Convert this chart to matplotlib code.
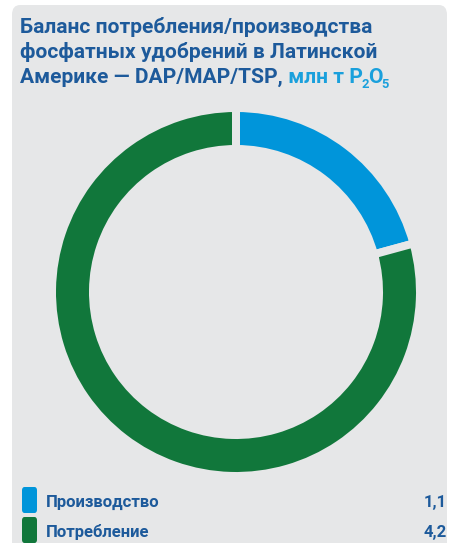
import matplotlib
matplotlib.use("Agg")
import matplotlib.pyplot as plt
from matplotlib.patches import FancyBboxPatch

# data
labels = ["Производство", "Потребление"]
values = [1.1, 4.2]
value_labels = ["1,1", "4,2"]
colors = ["#0095DA", "#11773B"]

title_lines = [
    "Баланс потребления/производства",
    "фосфатных удобрений в Латинской",
    "Америке — DAP/MAP/TSP,",
]
unit_text = " млн т P"

W, H = 450, 543
DPI = 100
PANEL = "#E6E7E8"
DARK = "#1D5A9B"
LIGHT = "#1AA0DC"
WEIGHT = "bold"

plt.rcParams["font.family"] = ["Roboto", "DejaVu Sans"]

fig = plt.figure(figsize=(W / DPI, H / DPI), dpi=DPI)
fig.patch.set_facecolor("white")


def px(x, y):
    """pixel coords (from top-left) -> figure fraction"""
    return x / W, 1 - y / H


# grey panel with rounded top-left corner
panel = FancyBboxPatch(
    (12 / W, -0.05), (447 - 12) / W, 1 - 5 / H + 0.05,
    boxstyle="round,pad=0,rounding_size=0.018",
    transform=fig.transFigure, facecolor=PANEL, edgecolor="none", zorder=-5,
)
fig.patches.append(panel)

# donut
cx, cy = 236, 292
gap_px = 8
R = 180 + gap_px / 2
ax = fig.add_axes([(cx - R) / W, (H - cy - R) / H, 2 * R / W, 2 * R / H])
ax.set_facecolor("none")
ring = (33 + gap_px) / R
ax.pie(
    values,
    colors=colors,
    startangle=90,
    counterclock=False,
    radius=1,
    wedgeprops=dict(width=ring, edgecolor=PANEL, linewidth=gap_px * 72 / DPI),
)
ax.set_xlim(-1, 1)
ax.set_ylim(-1, 1)
ax.set_aspect("auto")
ax.axis("off")

# title
fs_title = 15.1
tx = 20
last = None
for i, line in enumerate(title_lines):
    x, y = px(tx, 33 + 25 * i)
    last = fig.text(x, y, line, fontsize=fs_title, fontweight=WEIGHT,
                    color=DARK, va="baseline", ha="left")

# unit with subscripts, chained after the last title line
a1 = ax.annotate(unit_text, xy=(1, 0), xycoords=last, va="bottom", ha="left",
                 fontsize=fs_title, fontweight=WEIGHT, color=LIGHT,
                 annotation_clip=False)
a2 = ax.annotate("2", xy=(1, 0), xycoords=a1, va="bottom", ha="left",
                 xytext=(-0.8, -3), textcoords="offset points",
                 fontsize=fs_title * 0.62, fontweight=WEIGHT, color=LIGHT,
                 annotation_clip=False)
a3 = ax.annotate("O", xy=(1, 0), xycoords=a2, va="bottom", ha="left",
                 xytext=(-0.8, 3), textcoords="offset points",
                 fontsize=fs_title, fontweight=WEIGHT, color=LIGHT,
                 annotation_clip=False)
a4 = ax.annotate("5", xy=(1, 0), xycoords=a3, va="bottom", ha="left",
                 xytext=(-0.8, -3), textcoords="offset points",
                 fontsize=fs_title * 0.62, fontweight=WEIGHT, color=LIGHT,
                 annotation_clip=False)

# legend
fs_leg = 12.0
for i, (lab, val, col) in enumerate(zip(labels, value_labels, colors)):
    top = 487 + 30 * i
    sq = FancyBboxPatch(
        (22 / W, 1 - (top + 26) / H), 15 / W, 26 / H,
        boxstyle="round,pad=0,rounding_size=0.006",
        transform=fig.transFigure, facecolor=col, edgecolor="none", zorder=2,
    )
    fig.patches.append(sq)
    base = 507 + 30 * i
    x, y = px(46, base)
    fig.text(x, y, lab, fontsize=fs_leg, fontweight=WEIGHT, color=DARK,
             va="baseline", ha="left")
    x, y = px(447, base)
    fig.text(x, y, val, fontsize=fs_leg, fontweight=WEIGHT, color=DARK,
             va="baseline", ha="right")

fig.savefig("out.png", dpi=DPI, facecolor=fig.get_facecolor())
